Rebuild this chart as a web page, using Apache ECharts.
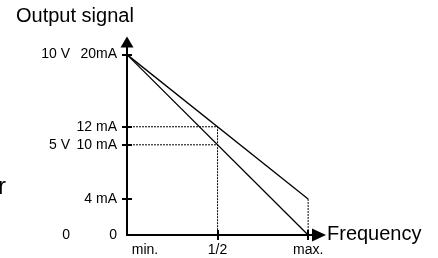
<!DOCTYPE html>
<html>
<head>
<meta charset="utf-8">
<script src="https://cdn.jsdelivr.net/npm/echarts@6/dist/echarts.min.js"></script>
<style>
  html, body { margin: 0; padding: 0; background: #fff; }
  #chart { width: 438px; height: 258px; }
</style>
</head>
<body>
<div id="chart"></div>
<script>
// output (mA) against frequency (fraction of max)
const fullLine = [[0, 20], [1, 0]];      // 0..20 mA / 0..10 V
const offsetLine = [[0, 20], [1, 4]];    // 4..20 mA
const halfGuide = [[0, 12], [0.5, 12], [0.5, 0]];
const halfGuide2 = [[0, 10], [0.5, 10]];
const maxGuide = [[1, 4], [1, 0]];

const mALabels = { 0: '0', 4: '4 mA', 10: '10 mA', 12: '12 mA', 20: '20mA' };
const voltLabels = { 0: '0', 10: '5 V', 20: '10 V' };
const freqLabels = { 0: 'min.', 0.5: '1/2', 1: 'max.' };
const yTicks = [4, 10, 12, 20];
const xTicks = [0.5, 1];

const font = 'Liberation Sans, Arial, sans-serif';
const black = '#000';

let myChart = echarts.init(document.getElementById('chart'));

let axisLineY = {
    show: true,
    symbol: ['none', 'triangle'],
    symbolSize: [13, 11],
    lineStyle: { color: black, width: 2 }
};
let axisLineX = {
    show: true,
    symbol: ['none', 'triangle'],
    symbolSize: [13, 14],
    lineStyle: { color: black, width: 2 }
};

let option = {
    animation: false,
    grid: { left: 127, right: 119, top: 42, bottom: 23 },
    xAxis: [
        {
            type: 'value', min: 0, max: 1.06, position: 'bottom',
            axisLine: axisLineX,
            splitLine: { show: false },
            axisTick: { show: true, inside: false, length: 5, customValues: xTicks, lineStyle: { color: black, width: 2 } },
            axisLabel: {
                customValues: [0, 0.5, 1],
                margin: 8,
                color: black, fontFamily: font, fontSize: 14,
                formatter: function (v) {
                    if (v === 0) return '{m|min.}';
                    return freqLabels[v];
                },
                rich: { m: { padding: [0, 0, 0, 36], color: black, fontFamily: font, fontSize: 14 } }
            }
        },
        {
            type: 'value', min: 0, max: 1.06, position: 'bottom',
            axisLine: { show: false },
            splitLine: { show: false },
            axisTick: { show: true, inside: true, length: 5, customValues: xTicks, lineStyle: { color: black, width: 2 } },
            axisLabel: { show: false }
        }
    ],
    yAxis: [
        {
            type: 'value', min: 0, max: 21.4, position: 'left',
            axisLine: axisLineY,
            splitLine: { show: false },
            axisTick: { show: true, inside: false, length: 5, customValues: yTicks, lineStyle: { color: black, width: 2 } },
            axisLabel: {
                customValues: [0, 4, 10, 12, 20],
                margin: 10,
                color: black, fontFamily: font, fontSize: 14,
                formatter: function (v) { return mALabels[v]; }
            }
        },
        {
            type: 'value', min: 0, max: 21.4, position: 'left',
            axisLine: { show: false },
            splitLine: { show: false },
            axisTick: { show: true, inside: true, length: 5, customValues: yTicks, lineStyle: { color: black, width: 2 } },
            axisLabel: {
                customValues: [0, 10, 20],
                margin: 57,
                color: black, fontFamily: font, fontSize: 14,
                formatter: function (v) { return voltLabels[v]; }
            }
        }
    ],
    graphic: [
        { type: 'text', left: 16, top: 6, style: { text: 'Output signal', font: '20px ' + font, fill: black } },
        { type: 'text', left: 327, top: 224, style: { text: 'Frequency', font: '20px ' + font, fill: black } },
        { type: 'text', left: -2, top: 175, style: { text: 'r', font: '24px ' + font, fill: black } }
    ],
    series: [
        { type: 'line', data: fullLine, symbol: 'none', lineStyle: { color: black, width: 1.3 } },
        { type: 'line', data: offsetLine, symbol: 'none', lineStyle: { color: black, width: 1.3 } },
        { type: 'line', data: halfGuide, symbol: 'none', lineStyle: { color: black, width: 1, type: [2, 1] } },
        { type: 'line', data: halfGuide2, symbol: 'none', lineStyle: { color: black, width: 1, type: [2, 1] } },
        { type: 'line', data: maxGuide, symbol: 'none', lineStyle: { color: black, width: 1, type: [2, 1] } }
    ]
};
myChart.setOption(option);
</script>
</body>
</html>
